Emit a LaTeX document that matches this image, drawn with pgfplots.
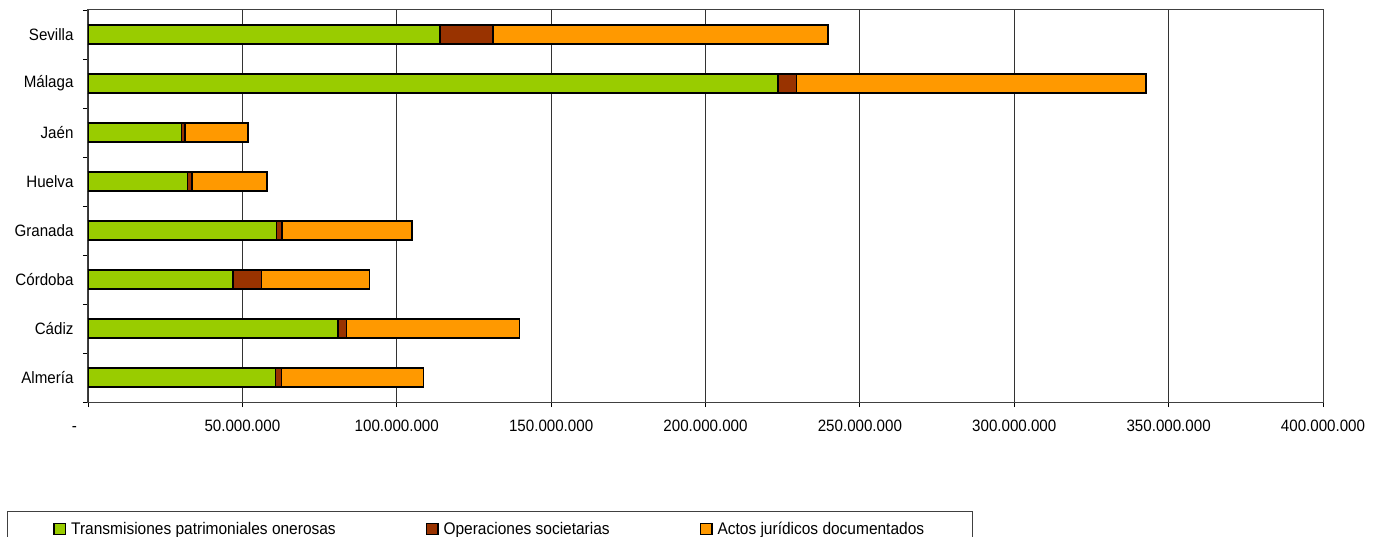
\documentclass[border=0pt]{standalone}
\usepackage{fontspec}
\setmainfont{Liberation Sans}[FakeStretch=0.92]
\usepackage{pgfplots}
\pgfplotsset{compat=1.18}
\definecolor{cgreen}{HTML}{99CC00}
\definecolor{cbrown}{HTML}{993300}
\definecolor{corange}{HTML}{FF9900}
\newcommand{\lbl}{\fontsize{16.5}{19}\selectfont}
\newcommand{\lgd}{\fontsize{16.9}{19}\selectfont}
\pgfplotsset{
  sq/.style={legend image code/.code={\draw[##1,draw=black,line width=1.3bp] (0bp,-5.5bp) rectangle (11.5bp,6bp);}}
}
\begin{document}
\begin{tikzpicture}
\begin{axis}[
  at={(0,0)}, anchor=south west,
  scale only axis, width=1235bp, height=392bp,
  xbar stacked, bar width=19bp,
  xmin=0, xmax=400, ymin=-0.5, ymax=7.5,
  xtick={0,50,100,150,200,250,300,350,400},
  xticklabels={{\llap{-\hspace{11bp}}\vphantom{0}},{50.000.000},{100.000.000},{150.000.000},{200.000.000},{250.000.000},{300.000.000},{350.000.000},{400.000.000}},
  ytick={0,1,2,3,4,5,6,7},
  yticklabels={Almería,Cádiz,Córdoba,Granada,Huelva,Jaén,Málaga,Sevilla},
  minor ytick={-0.5,0.5,1.5,2.5,3.5,4.5,5.5,6.5,7.5},
  xtick pos=bottom, ytick pos=left,
  tick align=outside,
  major tick length=5bp, minor tick length=5bp,
  major y tick style={draw=none},
  minor y tick style={black, line width=0.9bp},
  major x tick style={black, line width=0.9bp},
  xmajorgrids, grid style={black!80, line width=0.8bp},
  axis line style={black!75, line width=1bp},
  x tick label style={font=\lbl, yshift=-10bp},
  y tick label style={font=\lbl, xshift=-6bp},
  legend columns=3,
  legend style={at={(-0.0656,-0.278)}, anchor=north west, draw=black!75, line width=0.8bp,
    font=\lgd, inner xsep=46bp, inner ysep=9bp, column sep=0pt,
    /tikz/every odd column/.append style={column sep=3bp},
    /tikz/every even column/.append style={column sep=88bp},
    cells={anchor=west}},
]
\addplot[sq, fill=cgreen, draw=black, line width=1.5bp] coordinates {
 (60.7,0) (81.0,1) (46.9,2) (61.0,3) (32.2,4) (30.3,5) (223.4,6) (114.0,7)};
\addplot[sq, fill=cbrown, draw=black, line width=1.5bp] coordinates {
 (2.0,0) (2.7,1) (9.3,2) (1.9,3) (1.5,4) (1.1,5) (6.0,6) (17.2,7)};
\addplot[sq, fill=corange, draw=black, line width=1.5bp] coordinates {
 (45.9,0) (56.0,1) (34.9,2) (42.1,3) (24.3,4) (20.5,5) (113.3,6) (108.5,7)};
\legend{Transmisiones patrimoniales onerosas, Operaciones societarias, Actos jurídicos documentados}
\end{axis}
\pgfresetboundingbox
\path (-88bp,-135bp) rectangle (1286bp,402bp);
\end{tikzpicture}
\end{document}
